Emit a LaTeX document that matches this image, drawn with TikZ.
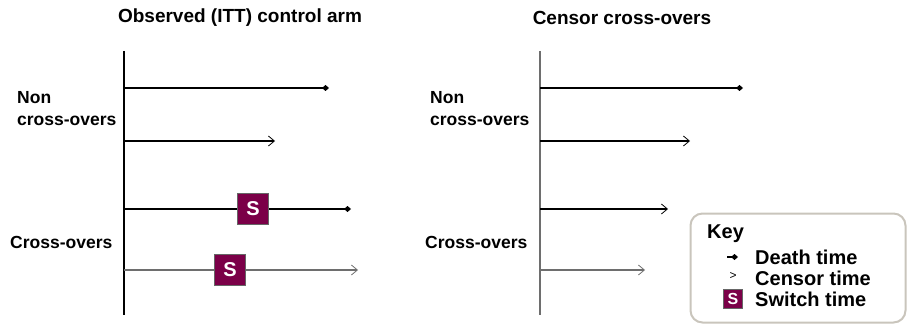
\documentclass[tikz,border=0pt]{standalone}
\usepackage{fontspec}
\setmainfont{Liberation Sans}
\usetikzlibrary{arrows.meta, positioning, calc}
\definecolor{switchred}{HTML}{7B0048}
\definecolor{keygray}{HTML}{C9C5BC}
\definecolor{axgray}{HTML}{6E6E6E}
\tikzstyle{axis} = [draw, line width=1.2pt]
\tikzstyle{death} = [draw, line width=1.1pt, -{Diamond[length=7pt,width=6pt]}]
\tikzstyle{censor} = [draw, line width=1.1pt, -{Straight Barb[length=6pt,width=10pt,line width=0.8pt]}]
\tikzstyle{switch} = [draw=black!60, fill=switchred, text=white, minimum size=31pt, inner sep=0pt, font=\fontsize{20}{20}\selectfont\bfseries]
\tikzstyle{title} = [font=\fontsize{19}{19}\selectfont\bfseries]
\tikzstyle{group} = [anchor=west, align=left, inner sep=1pt, font=\fontsize{17.5}{22}\selectfont\bfseries]
\tikzstyle{keytext} = [anchor=west, inner sep=1pt, font=\fontsize{20}{20}\selectfont\bfseries]

\begin{document}
\begin{tikzpicture}[x=1pt, y=-1pt]
	\useasboundingbox (0,0) rectangle (909,326);
	
	% left panel: observed control arm
	\node [title] (titleL) at (240,18) {Observed (ITT) control arm};
	\coordinate (axL1) at (124,51);
	\coordinate (axL2) at (124,315);
	\path [axis] (axL1) -- (axL2);
	
	\node [group] (nonL) at (16,109) {Non\\cross-overs};
	\node [group] (crossL) at (9,242) {Cross-overs};
	
	\coordinate (eL1) at (329,88);
	\coordinate (eL2) at (275,141);
	\coordinate (eL3) at (351,209);
	\coordinate (eL4) at (358,270);
	\path [death] (axL1 |- eL1) -- (eL1);
	\path [censor] (axL1 |- eL2) -- (eL2);
	\path [death] (axL1 |- eL3) -- (eL3);
	\path [censor, axgray, line width=1.5pt] (axL1 |- eL4) -- (eL4);
	
	\node [switch] (sL3) at (253,209) {S};
	\node [switch] (sL4) at (230,270) {S};
	
	% right panel: censor cross-overs
	\node [title] (titleR) at (622,18) {Censor cross-overs};
	\coordinate (axR1) at (540,51);
	\coordinate (axR2) at (540,315);
	\path [axis, axgray, line width=1.5pt] (axR1) -- (axR2);
	
	\node [group] (nonR) at (429,109) {Non\\cross-overs};
	\node [group] (crossR) at (424,242) {Cross-overs};
	
	\coordinate (eR1) at (743,88);
	\coordinate (eR2) at (690,141);
	\coordinate (eR3) at (668,209);
	\coordinate (eR4) at (645,270);
	\path [death] (axR1 |- eR1) -- (eR1);
	\path [censor] (axR1 |- eR2) -- (eR2);
	\path [censor] (axR1 |- eR3) -- (eR3);
	\path [censor, axgray, line width=1.5pt] (axR1 |- eR4) -- (eR4);
	
	% key
	\node [draw=keygray, line width=2pt, rounded corners=12pt, minimum width=215pt, minimum height=109pt] (key) at (798,268) {};
	\node [keytext] (keyhead) at (706,234) {Key};
	\node [keytext] (deathtxt) at (754,257) {Death time};
	\node [keytext] (censortxt) at (754,278) {Censor time};
	\node [keytext] (switchtxt) at (754,299) {Switch time};
	
	\coordinate (kd1) at (727,257);
	\coordinate (kd2) at (738,257);
	\path [death] (kd1) -- (kd2);
	\node [font=\fontsize{12}{12}\selectfont] (kcensor) at (733,276) {>};
	\node [switch, minimum size=19pt, font=\fontsize{16}{16}\selectfont\bfseries] (kswitch) at (733,299) {S};
	
\end{tikzpicture}
\end{document}
